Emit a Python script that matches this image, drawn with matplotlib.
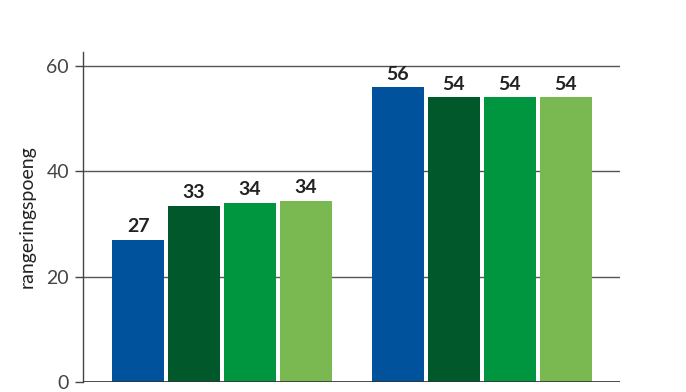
import matplotlib.pyplot as plt
import numpy as np

# group positions (no category labels visible in the picture)
groups = ["A", "B"]
series_1 = [27.0, 56.0]
series_2 = [33.4, 54.1]
series_3 = [34.0, 54.1]
series_4 = [34.4, 54.1]
y_ticks = [0, 20, 40, 60]
y_label = "rangeringspoeng"

colors = ["#00529C", "#00582B", "#00963F", "#7AB851"]

plt.rcParams['font.family'] = ['Lato', 'DejaVu Sans']

fig = plt.figure(figsize=(6.86, 3.92), dpi=100)
ax = fig.add_axes([83 / 686, 10 / 392, (620 - 83) / 686, (382 - 52) / 392])

x = np.arange(len(groups))
step = 0.2154
width = 0.2
all_series = [series_1, series_2, series_3, series_4]
for i, vals in enumerate(all_series):
    pos = x + (i - 1.5) * step
    ax.bar(pos, vals, width, color=colors[i], zorder=2)
    for p, v in zip(pos, vals):
        ax.text(p, v + 0.9, f"{round(v):d}", ha='center', va='bottom',
                fontsize=14, fontweight='bold', color='#222222', zorder=3)

ax.set_xlim(-0.535, 1.531)
ax.set_ylim(0, 62.7)
ax.set_yticks(y_ticks)
ax.set_yticklabels([str(t) for t in y_ticks], fontsize=14, fontweight='normal', color='#444444')
ax.set_xticks([])
ax.grid(axis='y', color='#555555', linewidth=1.0, zorder=1)
ax.set_axisbelow(True)
ax.axhline(0, color='#333333', linewidth=1.2, zorder=4)

for s in ['top', 'right', 'bottom']:
    ax.spines[s].set_visible(False)
ax.spines['left'].set_color('#444444')
ax.spines['left'].set_linewidth(1.0)
ax.tick_params(axis='y', length=6, width=1.0, color='#444444', pad=4)

ax.set_ylabel(y_label, fontsize=14, color='#222222', labelpad=8)

plt.savefig("out.png", dpi=100)
